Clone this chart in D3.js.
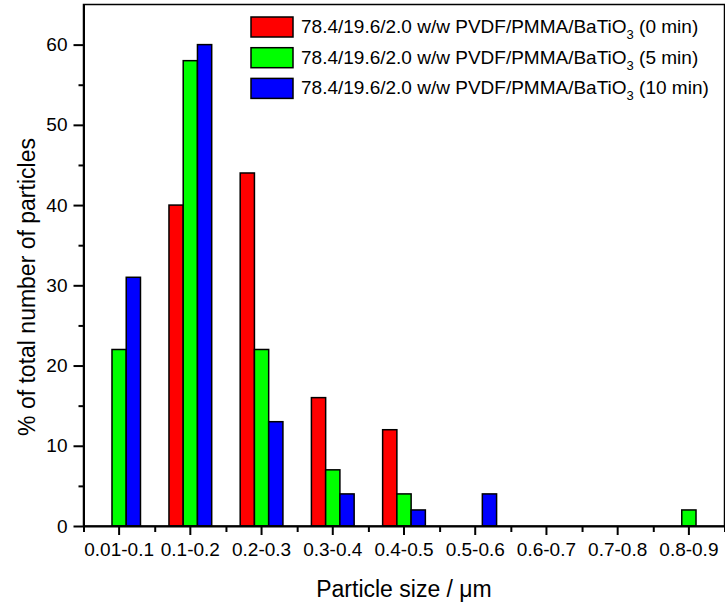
<!DOCTYPE html>
<html>
<head>
<meta charset="utf-8">
<script src="https://cdn.jsdelivr.net/npm/d3@7"></script>
<style>
  body { margin: 0; background: #fff; }
  svg text { font-family: Arial, "Liberation Sans", sans-serif; fill: #000; }
  .axis path, .axis line { stroke: #000; stroke-width: 2; }
</style>
</head>
<body>
<svg id="chart"></svg>
<script>
// Size classes on the x axis
var categories = ['0.01-0.1', '0.1-0.2', '0.2-0.3', '0.3-0.4', '0.4-0.5', '0.5-0.6', '0.6-0.7', '0.7-0.8', '0.8-0.9'];

// % of particles per size class, one array per mixing time
var series0min = [0, 40, 44, 16, 12, 0, 0, 0, 0];
var series5min = [22, 58, 22, 7, 4, 0, 0, 0, 2];
var series10min = [31, 60, 13, 4, 2, 4, 0, 0, 0];

var seriesNames = ['0 min', '5 min', '10 min'];
var seriesColors = ['#ff0000', '#00ff00', '#0000ff'];

var yMajorTicks = [0, 10, 20, 30, 40, 50, 60];
var yMinorTicks = [5, 15, 25, 35, 45, 55];

var canvasWidth = 725;
var canvasHeight = 604;

var plot = { left: 83.5, right: 724.5, top: 4.5, bottom: 526 };

var svg = d3.select('#chart')
  .attr('width', canvasWidth)
  .attr('height', canvasHeight);

var allSeries = [series0min, series5min, series10min];

// Scales
var x0 = d3.scaleBand()
  .domain(categories)
  .range([plot.left, plot.right]);

var groupWidth = x0.bandwidth() * 0.6;
var x1 = d3.scaleBand()
  .domain(d3.range(allSeries.length))
  .range([-groupWidth / 2, groupWidth / 2]);

var y = d3.scaleLinear()
  .domain([0, 65])
  .range([plot.bottom, plot.top]);

// Bars (zero values are not drawn)
var barData = [];
allSeries.forEach(function(values, s) {
  values.forEach(function(v, i) {
    if (v > 0) {
      barData.push({ cat: categories[i], series: s, value: v });
    }
  });
});

svg.append('g')
  .classed('bars', true)
  .selectAll('rect')
  .data(barData)
  .enter()
  .append('rect')
  .attr('x', function(d) { return x0(d.cat) + x0.bandwidth() / 2 + x1(d.series); })
  .attr('y', function(d) { return y(d.value); })
  .attr('width', x1.bandwidth())
  .attr('height', function(d) { return y(0) - y(d.value); })
  .attr('fill', function(d) { return seriesColors[d.series]; })
  .attr('stroke', '#000')
  .attr('stroke-width', 1.5);

// Frame
svg.append('rect')
  .attr('x', plot.left)
  .attr('y', plot.top)
  .attr('width', plot.right - plot.left)
  .attr('height', plot.bottom - plot.top)
  .attr('fill', 'none')
  .attr('stroke', '#000')
  .attr('stroke-width', 1.5);

// Y axis
var yAxis = svg.append('g')
  .attr('class', 'axis y-axis')
  .attr('transform', 'translate(' + plot.left + ',0)')
  .call(d3.axisLeft(y).tickValues(yMajorTicks).tickSize(10).tickPadding(6).tickSizeOuter(0));
yAxis.selectAll('text').style('font-size', '19px');

svg.append('g')
  .attr('class', 'axis y-minor')
  .attr('transform', 'translate(' + plot.left + ',0)')
  .call(d3.axisLeft(y).tickValues(yMinorTicks).tickSize(5).tickFormat('').tickSizeOuter(0))
  .select('.domain').remove();

// X axis
var xAxis = svg.append('g')
  .attr('class', 'axis x-axis')
  .attr('transform', 'translate(0,' + plot.bottom + ')')
  .call(d3.axisBottom(x0).tickSize(9).tickPadding(8).tickSizeOuter(0));
xAxis.selectAll('text').style('font-size', '19px');

var xEdge = d3.scaleLinear()
  .domain([0, categories.length])
  .range([plot.left, plot.right]);

svg.append('g')
  .attr('class', 'axis x-minor')
  .attr('transform', 'translate(0,' + plot.bottom + ')')
  .call(d3.axisBottom(xEdge).tickValues(d3.range(0, categories.length + 1)).tickSize(6).tickFormat('').tickSizeOuter(0))
  .select('.domain').remove();

// Axis titles
svg.append('text')
  .attr('x', (plot.left + plot.right) / 2)
  .attr('y', 597)
  .attr('text-anchor', 'middle')
  .style('font-size', '23px')
  .text('Particle size / \u03bcm');

svg.append('text')
  .attr('transform', 'translate(35,' + 287 + ') rotate(-90)')
  .attr('text-anchor', 'middle')
  .style('font-size', '23px')
  .text('% of total number of particles');

// Legend
var legend = svg.append('g')
  .classed('legend', true)
  .attr('transform', 'translate(251,17)');

var legendRows = legend.selectAll('.legend-row')
  .data(seriesNames)
  .enter()
  .append('g')
  .classed('legend-row', true)
  .attr('transform', function(d, i) { return 'translate(0,' + (i * 30.7) + ')'; });

legendRows.append('rect')
  .attr('width', 42)
  .attr('height', 20)
  .attr('fill', function(d, i) { return seriesColors[i]; })
  .attr('stroke', '#000')
  .attr('stroke-width', 1.5);

var legendText = legendRows.append('text')
  .attr('x', 50)
  .attr('y', 16)
  .style('font-size', '19px');

legendText.append('tspan').text('78.4/19.6/2.0 w/w PVDF/PMMA/BaTiO');
legendText.append('tspan')
  .attr('dy', 6)
  .style('font-size', '13px')
  .text('3');
legendText.append('tspan')
  .attr('dy', -6)
  .text(function(d) { return ' (' + d + ')'; });
</script>
</body>
</html>
